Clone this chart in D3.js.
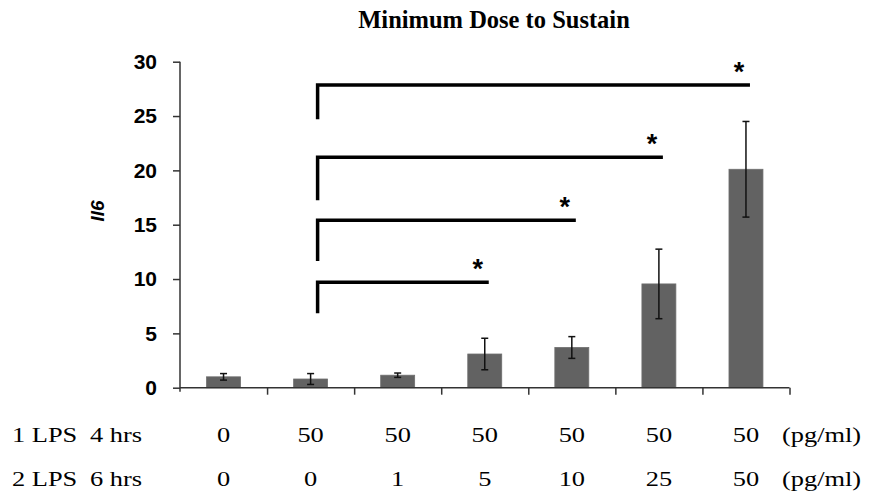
<!DOCTYPE html>
<html>
<head>
<meta charset="utf-8">
<script src="https://cdn.jsdelivr.net/npm/d3@7"></script>
<style>
  body { margin: 0; background: #fff; }
  .vis-barchart text { fill: #000; }
</style>
</head>
<body>
<div class="vis-barchart"></div>
<script>
// doses for each group, in pg/ml
const lps1 = ['0', '50', '50', '50', '50', '50', '50'];
const lps2 = ['0', '0', '1', '5', '10', '25', '50'];
// Il6 expression, mean and error
const il6Mean = [1.0, 0.8, 1.15, 3.1, 3.7, 9.55, 20.1];
const il6Err = [0.3, 0.5, 0.2, 1.45, 1.0, 3.2, 4.4];
const yTicks = [0, 5, 10, 15, 20, 25, 30];
// significance brackets, all from group 1 (0-based) to group bracketTo
const bracketTo = [3, 4, 5, 6];
const bracketTop = [9.7, 15.4, 21.2, 27.85];
const bracketBottom = [6.85, 11.65, 17.25, 24.7];

const drawbar = () => {
    d3.select('.vis-barchart > *').remove();
    const W = 875, H = 504;
    const margin = {top: 61.7, right: 85.5, bottom: 116.3, left: 180};
    const width = W - margin.left - margin.right;
    const height = H - margin.top - margin.bottom;

    const root = d3.select('.vis-barchart').append('svg')
        .attr('width', W)
        .attr('height', H)
        .style('font-family', 'Arial, "Liberation Sans", sans-serif');
    root.append('rect').attr('width', W).attr('height', H).attr('fill', '#fff');

    root.append('text')
        .attr('x', 494).attr('y', 27.5)
        .attr('text-anchor', 'middle')
        .style('font-family', '"Liberation Serif", "Times New Roman", serif')
        .style('font-weight', 'bold')
        .style('font-size', '24.5px')
        .text('Minimum Dose to Sustain');

    const svg = root.append('g')
        .attr('transform', 'translate(' + margin.left + ',' + margin.top + ')');

    const idx = d3.range(il6Mean.length);
    const x = d3.scaleBand()
        .domain(idx)
        .range([0, width])
        .paddingInner(0.61)
        .paddingOuter(0.305);
    const xi = d3.scaleLinear().domain([0, idx.length]).range([0, width]);
    const y = d3.scaleLinear().domain([0, 30]).range([height, 0]);
    const cx = i => x(i) + x.bandwidth() / 2;

    // bars
    svg.selectAll('.bar')
        .data(idx)
        .enter().append('rect')
        .attr('class', 'bar')
        .attr('x', i => x(i))
        .attr('width', x.bandwidth())
        .attr('y', i => y(il6Mean[i]))
        .attr('height', i => height - y(il6Mean[i]))
        .attr('fill', '#626262')
        .attr('stroke', '#6e6e6e')
        .attr('stroke-width', 0.8);

    // error bars
    const err = svg.selectAll('.err')
        .data(idx)
        .enter().append('g')
        .attr('class', 'err')
        .attr('stroke', '#111')
        .attr('stroke-width', 1.5);
    err.append('line')
        .attr('x1', cx).attr('x2', cx)
        .attr('y1', i => y(il6Mean[i] + il6Err[i]))
        .attr('y2', i => y(il6Mean[i] - il6Err[i]));
    err.append('line')
        .attr('x1', i => cx(i) - 3.5).attr('x2', i => cx(i) + 3.5)
        .attr('y1', i => y(il6Mean[i] + il6Err[i]))
        .attr('y2', i => y(il6Mean[i] + il6Err[i]));
    err.append('line')
        .attr('x1', i => cx(i) - 3.5).attr('x2', i => cx(i) + 3.5)
        .attr('y1', i => y(il6Mean[i] - il6Err[i]))
        .attr('y2', i => y(il6Mean[i] - il6Err[i]));

    // axes
    const yAxis = svg.append('g')
        .call(d3.axisLeft(y).tickValues(yTicks).tickSize(7).tickPadding(16).tickSizeOuter(0));
    yAxis.select('.domain').attr('d', 'M0,' + y(30) + 'V' + (height + 4));
    yAxis.selectAll('path, line').attr('stroke', '#333').attr('stroke-width', 1.5);
    yAxis.selectAll('text')
        .style('font-size', '21px')
        .style('font-weight', 'bold')
        .attr('fill', '#000');

    const xAxis = svg.append('g')
        .attr('transform', 'translate(0,' + height + ')')
        .call(d3.axisBottom(xi).tickValues(d3.range(1, idx.length + 1)).tickSize(7).tickFormat('').tickSizeOuter(0));
    xAxis.select('.domain').attr('d', 'M0,0H' + width);
    xAxis.selectAll('path, line').attr('stroke', '#333').attr('stroke-width', 1.5);

    root.append('text')
        .attr('transform', 'translate(104,211) rotate(-90)')
        .attr('text-anchor', 'middle')
        .style('font-size', '19px')
        .style('font-weight', 'bold')
        .style('font-style', 'italic')
        .text('Il6');

    // significance brackets
    const br = svg.selectAll('.bracket')
        .data(bracketTo.map((t, k) => k))
        .enter().append('g')
        .attr('class', 'bracket');
    br.append('path')
        .attr('d', k => 'M' + (cx(1) + 7) + ',' + y(bracketBottom[k]) +
            'V' + y(bracketTop[k]) + 'H' + (cx(bracketTo[k]) + 4))
        .attr('fill', 'none')
        .attr('stroke', '#000')
        .attr('stroke-width', 3.5)
        .attr('stroke-linejoin', 'miter');
    br.append('text')
        .attr('x', k => cx(bracketTo[k]) - 7)
        .attr('y', k => y(bracketTop[k]) - 4)
        .attr('text-anchor', 'middle')
        .style('font-size', '27px')
        .style('font-weight', 'bold')
        .text('*');

    // dose table below the axis
    const serif = '"Liberation Serif", "Times New Roman", serif';
    const rows = [
        {label: '1 LPS', time: '4 hrs', doses: lps1, base: 442},
        {label: '2 LPS', time: '6 hrs', doses: lps2, base: 486}
    ];
    const put = (g, px, py, txt, anchor) => g.append('text')
        .attr('transform', 'translate(' + px + ',' + py + ') scale(1.2,1)')
        .attr('text-anchor', anchor)
        .style('font-family', serif)
        .style('font-size', '22px')
        .text(txt);
    rows.forEach(r => {
        const g = root.append('g');
        put(g, 12, r.base, r.label, 'start');
        put(g, 90, r.base, r.time, 'start');
        r.doses.forEach((d, i) => put(g, margin.left + cx(i), r.base, d, 'middle'));
        put(g, 782, r.base, '(pg/ml)', 'start');
    });
};

drawbar();
</script>
</body>
</html>
